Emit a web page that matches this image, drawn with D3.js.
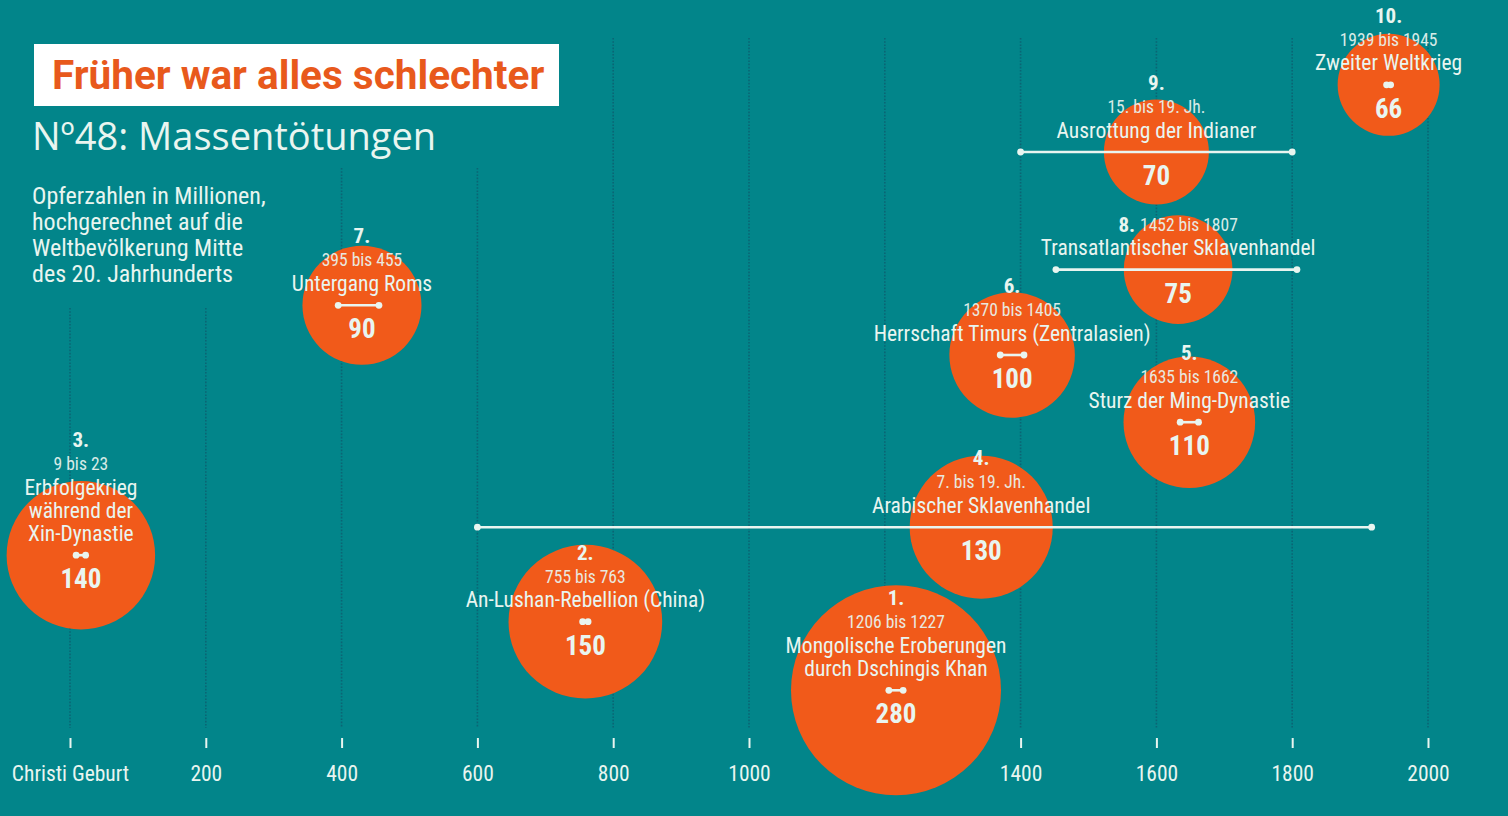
<!DOCTYPE html>
<html>
<head>
<meta charset="utf-8">
<script src="https://cdn.jsdelivr.net/npm/d3@7"></script>
<style>
  html, body { margin: 0; padding: 0; background: #02858a; }
  svg { display: block; }
</style>
</head>
<body>
<div id="chart"></div>
<script>
const ranks = [1, 2, 3, 4, 5, 6, 7, 8, 9, 10];
const periodLabels = ['1206 bis 1227', '755 bis 763', '9 bis 23', '7. bis 19. Jh.', '1635 bis 1662',
  '1370 bis 1405', '395 bis 455', '1452 bis 1807', '15. bis 19. Jh.', '1939 bis 1945'];
const eventNames = [
  ['Mongolische Eroberungen', 'durch Dschingis Khan'],
  ['An-Lushan-Rebellion (China)'],
  ['Erbfolgekrieg', 'während der', 'Xin-Dynastie'],
  ['Arabischer Sklavenhandel'],
  ['Sturz der Ming-Dynastie'],
  ['Herrschaft Timurs (Zentralasien)'],
  ['Untergang Roms'],
  ['Transatlantischer Sklavenhandel'],
  ['Ausrottung der Indianer'],
  ['Zweiter Weltkrieg'],
];
const startYears = [1206, 755, 9, 600, 1635, 1370, 395, 1452, 1400, 1939];
const endYears = [1227, 763, 23, 1917, 1662, 1405, 455, 1807, 1800, 1945];
const victims = [280, 150, 140, 130, 110, 100, 90, 75, 70, 66];   // Mio.
const bubbleYears = [1216.5, 759, 16, 1342, 1648.5, 1387.5, 430, 1632, 1600, 1942];
const stackLevels = [7.1, 16.9, 26.4, 30.4, 45.4, 55, 62.1, 67.2, 84, 93.6];

const yearTicks = [0, 200, 400, 600, 800, 1000, 1200, 1400, 1600, 1800, 2000];
const descLines = ['Opferzahlen in Millionen,', 'hochgerechnet auf die', 'Weltbevölkerung Mitte', 'des 20. Jahrhunderts'];

const BG = '#02858a';
const ORANGE = '#f15a1a';
const INK = '#e9f5f0';
const GRID = '#0b6574';
const FONT = "'Roboto Condensed', Roboto, sans-serif";

const width = 1508, height = 816;

const svg = d3.select('#chart').append('svg')
  .attr('width', width).attr('height', height)
  .style('font-family', FONT);

svg.append('rect').attr('width', width).attr('height', height).attr('fill', BG);

const x = d3.scaleLinear().domain([0, 2000]).range([70, 1428]);
const y = d3.scaleLinear().domain([0, 100]).range([740, 40]);
const r = d3.scaleSqrt().domain([0, 280]).range([0, 105]);

const events = ranks.map((rank, i) => ({
  rank,
  period: periodLabels[i],
  names: eventNames[i],
  start: startYears[i],
  end: endYears[i],
  value: victims[i],
  at: bubbleYears[i],
  level: stackLevels[i],
}));

// dotted grid, kept clear of the header texts
const gridTop = t => t <= 200 ? 308 : (t <= 600 ? 168 : 38);
svg.append('g')
  .selectAll('line')
  .data(yearTicks)
  .join('line')
  .attr('x1', d => x(d)).attr('x2', d => x(d))
  .attr('y1', d => gridTop(d)).attr('y2', 728)
  .attr('stroke', GRID)
  .attr('stroke-width', 1.6)
  .attr('stroke-dasharray', '1.6,1.6');

// axis
const axis = svg.append('g')
  .attr('transform', 'translate(0,738)')
  .call(d3.axisBottom(x)
    .tickValues(yearTicks)
    .tickSize(10)
    .tickFormat(d => d === 0 ? 'Christi Geburt' : d));
axis.select('.domain').remove();
axis.selectAll('.tick line').attr('stroke', INK).attr('stroke-width', 2);
axis.selectAll('.tick text')
  .attr('y', 35).attr('dy', null)
  .attr('dominant-baseline', 'central')
  .attr('fill', INK)
  .attr('font-size', 21.5)
  .attr('font-family', FONT);

// bubbles, biggest on top
svg.append('g')
  .selectAll('circle')
  .data(events.slice().reverse())
  .join('circle')
  .attr('cx', d => x(d.at))
  .attr('cy', d => y(d.level))
  .attr('r', d => r(d.value))
  .attr('fill', ORANGE);

// labels and period markers
const labels = svg.append('g')
  .selectAll('g')
  .data(events)
  .join('g')
  .attr('transform', d => `translate(${x(d.at)},${y(d.level)})`)
  .attr('fill', INK)
  .attr('text-anchor', 'middle');

labels.each(function (d) {
  const g = d3.select(this);
  const cx = x(d.at);
  // period marker
  g.append('line')
    .attr('x1', x(d.start) - cx).attr('x2', x(d.end) - cx)
    .attr('y1', 0).attr('y2', 0)
    .attr('stroke', INK).attr('stroke-width', 2.6);
  g.selectAll('circle.dot')
    .data([d.start, d.end])
    .join('circle')
    .attr('class', 'dot')
    .attr('cx', v => x(v) - cx)
    .attr('cy', 0)
    .attr('r', 3.4)
    .attr('fill', INK);

  g.append('text')
    .attr('y', 24)
    .attr('dominant-baseline', 'central')
    .attr('font-size', 27)
    .attr('font-weight', 'bold')
    .text(d.value);

  const n = d.names.length;
  d.names.forEach((line, k) => {
    g.append('text')
      .attr('y', -22 - (n - 1 - k) * 23)
      .attr('dominant-baseline', 'central')
      .attr('font-size', 21.5)
      .text(line);
  });
  const dateY = -22 - (n - 1) * 23 - 23;
  if (d.rank === 8) {
    const t = g.append('text').attr('y', dateY).attr('dominant-baseline', 'central');
    t.append('tspan').attr('font-size', 21).attr('font-weight', 'bold').text(d.rank + '. ');
    t.append('tspan').attr('font-size', 17.5).attr('opacity', 0.92).text(d.period);
  } else {
    g.append('text')
      .attr('y', dateY)
      .attr('dominant-baseline', 'central')
      .attr('font-size', 17.5)
      .attr('opacity', 0.92)
      .text(d.period);
    g.append('text')
      .attr('y', dateY - 24)
      .attr('dominant-baseline', 'central')
      .attr('font-size', 21)
      .attr('font-weight', 'bold')
      .text(d.rank + '.');
  }
});

// header
svg.append('rect')
  .attr('x', 34).attr('y', 44).attr('width', 525).attr('height', 62)
  .attr('fill', '#ffffff');
svg.append('text')
  .attr('x', 52).attr('y', 89)
  .attr('fill', '#e8591c')
  .attr('font-size', 40.5)
  .attr('font-weight', 'bold')
  .attr('font-family', "Roboto, sans-serif")
  .text('Früher war alles schlechter');
svg.append('text')
  .attr('x', 32).attr('y', 150)
  .attr('fill', INK)
  .attr('font-size', 38)
  .attr('font-family', "'Open Sans', 'DejaVu Sans', sans-serif")
  .text('N\u00ba48: Massentötungen');
svg.append('g')
  .selectAll('text')
  .data(descLines)
  .join('text')
  .attr('x', 32)
  .attr('y', (d, i) => 196 + i * 26)
  .attr('dominant-baseline', 'central')
  .attr('fill', INK)
  .attr('font-size', 24)
  .text(d => d);
</script>
</body>
</html>
